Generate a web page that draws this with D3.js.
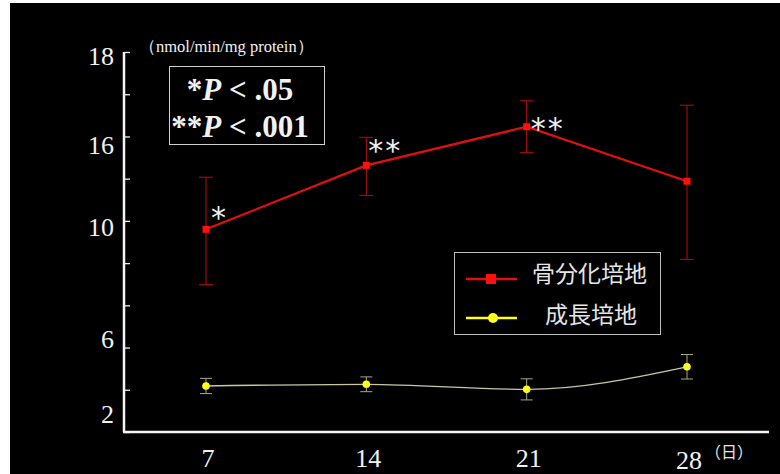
<!DOCTYPE html>
<html>
<head>
<meta charset="utf-8">
<script src="https://cdn.jsdelivr.net/npm/d3@7/dist/d3.min.js"></script>
<style>
  html, body { margin: 0; padding: 0; background: #fff; }
  svg { display: block; }
  .num { font-family: "Liberation Serif", "Times New Roman", serif; fill: #f2f2f2; }
  .cjk { font-family: "Noto Sans CJK JP", sans-serif; fill: #e6e6e6; }
</style>
</head>
<body>
<div id="chart"></div>
<script>
// days on the x axis
const days = [7, 14, 21, 28];
const dayLabels = ['7', '14', '21', '28'];

// values in axis grid units (the slide's axis is 0..18 in equal steps)
const osteoMean = [9.6, 12.63, 14.46, 11.88];
const osteoErrUp = [2.47, 1.33, 1.23, 3.6];
const osteoErrDown = [2.62, 1.42, 1.23, 3.7];

const growthMean = [2.18, 2.26, 2.02, 3.09];
const growthErr = [0.36, 0.35, 0.5, 0.58];

const sigMarks = ['*', '**', '**', ''];

// y tick labels as printed on the slide, and where they sit in grid units
const yTickLabels = ['18', '16', '10', '6', '2'];
const yTickLabelAt = [17.8, 13.6, 9.7, 4.4, 0.85];
const yTicks = [0, 2, 4, 6, 8, 10, 12, 14, 16, 18];

const seriesNames = ['骨分化培地', '成長培地'];

(function() {
  const width = 780,
    height = 474;

  const svg = d3.select('#chart')
    .append('svg')
      .attr('width', width)
      .attr('height', height);

  // black slide on white page
  svg.append('rect')
    .attr('x', 10)
    .attr('y', 3)
    .attr('width', width - 10)
    .attr('height', height - 3)
    .attr('fill', '#000');

  const x = d3.scaleLinear()
    .domain([7, 28])
    .range([206, 687]);

  const y = d3.scaleLinear()
    .domain([0, 18])
    .range([432, 52]);

  /*
    axes: vertical with inward ticks, plain horizontal baseline
  */
  const yAxis = svg.append('g')
    .attr('transform', 'translate(124,0)')
    .call(d3.axisRight(y).tickValues(yTicks).tickSize(6).tickFormat(''));
  yAxis.select('.domain').remove();
  yAxis.selectAll('line').attr('stroke', '#eee').attr('stroke-width', 1.3);

  svg.append('line')
    .attr('x1', 124).attr('x2', 124)
    .attr('y1', y(18)).attr('y2', y(0))
    .attr('stroke', '#f4f4f4')
    .attr('stroke-width', 2.5);

  svg.append('line')
    .attr('x1', 123).attr('x2', 769)
    .attr('y1', y(0)).attr('y2', y(0))
    .attr('stroke', '#f4f4f4')
    .attr('stroke-width', 2.5);

  svg.selectAll('.ylab')
    .data(yTickLabels)
    .enter().append('text')
      .attr('class', 'ylab num')
      .attr('x', 114)
      .attr('y', (d, i) => y(yTickLabelAt[i]))
      .attr('dy', '0.35em')
      .attr('text-anchor', 'end')
      .style('font-size', '26px')
      .text(d => d);

  svg.selectAll('.xlab')
    .data(dayLabels)
    .enter().append('text')
      .attr('class', 'xlab num')
      .attr('x', (d, i) => x(days[i]) + 2)
      .attr('y', (d, i) => i === 3 ? 469 : 467)
      .attr('text-anchor', 'middle')
      .style('font-size', '26px')
      .text(d => d);

  svg.append('text')
    .attr('class', 'cjk')
    .attr('x', 705)
    .attr('y', 458)
    .style('font-size', '16px')
    .text('（日）');

  svg.append('text')
    .attr('class', 'num')
    .attr('x', 139)
    .attr('y', 52)
    .style('font-size', '16.5px')
    .text('（nmol/min/mg protein）');

  /*
    significance box
  */
  svg.append('rect')
    .attr('x', 169.5).attr('y', 66.5)
    .attr('width', 155).attr('height', 78)
    .attr('fill', 'none')
    .attr('stroke', '#cfcfcf')
    .attr('stroke-width', 1);

  const pLines = [['*', '.05'], ['**', '.001']];
  pLines.forEach((p, i) => {
    const t = svg.append('text')
      .attr('class', 'num')
      .attr('x', 240)
      .attr('y', 100 + i * 37)
      .attr('text-anchor', 'middle')
      .style('font-size', '31px')
      .style('font-weight', 'bold');
    t.append('tspan').text(p[0]);
    t.append('tspan').style('font-style', 'italic').text('P');
    t.append('tspan').text(' < ' + p[1]);
  });

  /*
    growth medium (yellow) - drawn first, thin smoothed line
  */
  const growth = days.map((d, i) => ({ day: d, v: growthMean[i], e: growthErr[i] }));

  svg.append('path')
    .datum(growth)
    .attr('fill', 'none')
    .attr('stroke', '#c9c8a2')
    .attr('stroke-width', 1.3)
    .attr('d', d3.line().x(d => x(d.day)).y(d => y(d.v)).curve(d3.curveMonotoneX));

  const gBars = svg.selectAll('.gbar')
    .data(growth)
    .enter().append('g')
      .attr('class', 'gbar')
      .attr('stroke', '#a9a88a')
      .attr('stroke-width', 1);
  gBars.append('line')
    .attr('x1', d => x(d.day)).attr('x2', d => x(d.day))
    .attr('y1', d => y(d.v + d.e)).attr('y2', d => y(d.v - d.e));
  gBars.append('line')
    .attr('x1', d => x(d.day) - 6).attr('x2', d => x(d.day) + 6)
    .attr('y1', d => y(d.v + d.e)).attr('y2', d => y(d.v + d.e));
  gBars.append('line')
    .attr('x1', d => x(d.day) - 6).attr('x2', d => x(d.day) + 6)
    .attr('y1', d => y(d.v - d.e)).attr('y2', d => y(d.v - d.e));

  svg.selectAll('.gdot')
    .data(growth)
    .enter().append('circle')
      .attr('class', 'gdot')
      .attr('cx', d => x(d.day))
      .attr('cy', d => y(d.v))
      .attr('r', 3.8)
      .attr('fill', '#ffff1a');

  /*
    osteogenic medium (red)
  */
  const osteo = days.map((d, i) => ({ day: d, v: osteoMean[i], up: osteoErrUp[i], down: osteoErrDown[i] }));

  const oBars = svg.selectAll('.obar')
    .data(osteo)
    .enter().append('g')
      .attr('class', 'obar')
      .attr('stroke', '#b80d0d')
      .attr('stroke-width', 1);
  oBars.append('line')
    .attr('x1', d => x(d.day)).attr('x2', d => x(d.day))
    .attr('y1', d => y(d.v + d.up)).attr('y2', d => y(d.v - d.down));
  oBars.append('line')
    .attr('x1', d => x(d.day) - 7).attr('x2', d => x(d.day) + 7)
    .attr('y1', d => y(d.v + d.up)).attr('y2', d => y(d.v + d.up));
  oBars.append('line')
    .attr('x1', d => x(d.day) - 7).attr('x2', d => x(d.day) + 7)
    .attr('y1', d => y(d.v - d.down)).attr('y2', d => y(d.v - d.down));

  svg.append('path')
    .datum(osteo)
    .attr('fill', 'none')
    .attr('stroke', '#e01010')
    .attr('stroke-width', 2.2)
    .attr('d', d3.line().x(d => x(d.day)).y(d => y(d.v)));

  svg.selectAll('.odot')
    .data(osteo)
    .enter().append('rect')
      .attr('class', 'odot')
      .attr('x', d => x(d.day) - 3.5)
      .attr('y', d => y(d.v) - 3.5)
      .attr('width', 7)
      .attr('height', 7)
      .attr('fill', '#ff1010');

  // asterisks next to the red points
  const sigOffset = [[5, -1], [2, -4], [4, 12]];
  svg.selectAll('.sig')
    .data(sigMarks.filter(s => s))
    .enter().append('text')
      .attr('class', 'sig')
      .attr('x', (d, i) => x(days[i]) + sigOffset[i][0])
      .attr('y', (d, i) => y(osteoMean[i]) + sigOffset[i][1])
      .attr('fill', '#f0f0f0')
      .style('font-family', '"DejaVu Sans", sans-serif')
      .style('font-size', '30px')
      .style('letter-spacing', '2px')
      .text(d => d);

  /*
    legend
  */
  const legend = svg.append('g')
    .attr('transform', 'translate(454,252)');

  legend.append('rect')
    .attr('x', 0.5).attr('y', 0.5)
    .attr('width', 206).attr('height', 82)
    .attr('fill', '#000')
    .attr('stroke', '#bdbdbd');

  legend.append('line')
    .attr('x1', 12).attr('x2', 63).attr('y1', 27).attr('y2', 27)
    .attr('stroke', '#e01010').attr('stroke-width', 2.5);
  legend.append('rect')
    .attr('x', 32).attr('y', 22).attr('width', 10).attr('height', 10)
    .attr('fill', '#ff1010');
  legend.append('text')
    .attr('class', 'cjk')
    .attr('x', 78).attr('y', 22)
    .attr('dy', '0.35em')
    .style('font-size', '23px')
    .text(seriesNames[0]);

  legend.append('line')
    .attr('x1', 12).attr('x2', 63).attr('y1', 66).attr('y2', 66)
    .attr('stroke', '#ffff1a').attr('stroke-width', 2.5);
  legend.append('circle')
    .attr('cx', 39).attr('cy', 66).attr('r', 5)
    .attr('fill', '#ffff1a');
  legend.append('text')
    .attr('class', 'cjk')
    .attr('x', 91).attr('y', 63)
    .attr('dy', '0.35em')
    .style('font-size', '23px')
    .text(seriesNames[1]);

})();
</script>
</body>
</html>
